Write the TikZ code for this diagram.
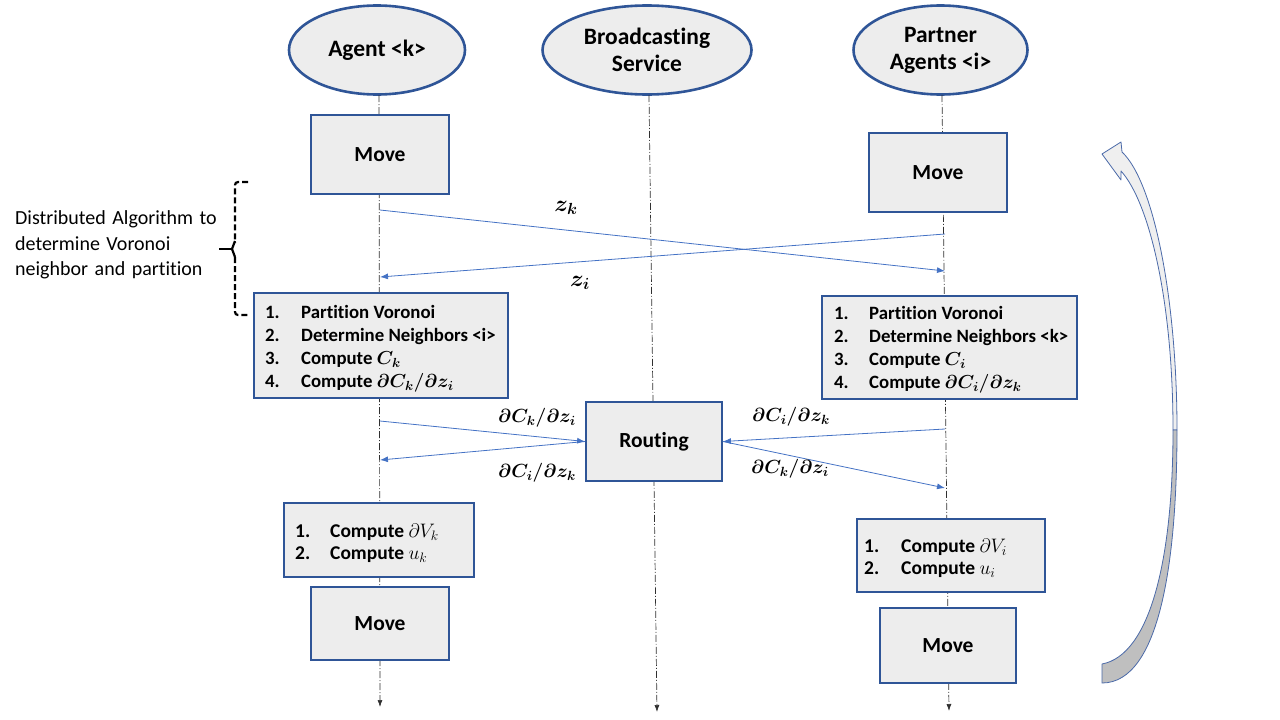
\RequirePackage{fix-cm}
\documentclass[tikz,border=0pt]{standalone}
\usepackage{fontspec}
\setmainfont{Carlito}[Ligatures=NoCommon]
\usetikzlibrary{shapes.geometric,arrows.meta}
\definecolor{boxfill}{HTML}{EDEDED}
\definecolor{boxline}{HTML}{2F5597}
\definecolor{msgblue}{HTML}{4472C4}
\definecolor{lifegray}{HTML}{303030}
\definecolor{arrowlight}{HTML}{EFEFEF}
\definecolor{arrowdark}{HTML}{BFBFBF}
\definecolor{arrowline}{HTML}{4A69A8}
\newcommand{\widespaces}{\spaceskip=6.5pt plus 1pt\relax}
\begin{document}
\begin{tikzpicture}[x=1pt,y=-1pt,
  actor/.style={ellipse, draw=boxline, line width=2.6pt, fill=boxfill, minimum height=89pt, inner sep=0pt, align=center, font=\fontsize{23.5}{27}\selectfont\bfseries},
  stepbox/.style={rectangle, draw=boxline, line width=1.8pt, fill=boxfill, inner sep=0pt, font=\fontsize{21.5}{24}\selectfont\bfseries},
  listtxt/.style={inner sep=0pt, align=left, anchor=west, font=\fontsize{18.8}{23}\selectfont\bfseries\boldmath},
  comptxt/.style={inner sep=0pt, align=left, anchor=west, font=\fontsize{19.5}{22}\selectfont\bfseries},
  life/.style={draw=lifegray, line width=0.7pt, dash pattern=on 7pt off 2pt on 1pt off 2pt, -{Latex[length=7pt,width=5pt]}},
  msg/.style={draw=msgblue, line width=0.8pt, -{Latex[length=8pt,width=6pt]}},
  lbl/.style={inner sep=0pt, font=\fontsize{19}{22}\selectfont\boldmath},
  curv/.style={draw=arrowline, line width=0.8pt, line join=round},
  brace/.style={draw=black, line width=2.2pt, dash pattern=on 6pt off 3pt, rounded corners=3pt},
  bracesolid/.style={draw=black, line width=2.2pt},
  anno/.style={inner sep=0pt, align=left, anchor=west, font=\fontsize{20}{25.5}\selectfont}
]
\useasboundingbox (0,0) rectangle (1280,720);

% actors
\node[actor, minimum width=176pt] (agent) at (377,50) {Agent <k>};
\node[actor, minimum width=209pt] (bcast) at (647,50) {Broadcasting\\Service};
\node[actor, minimum width=174pt] (partner) at (940.5,50) {Partner\\Agents <i>};

% lifelines
\coordinate (agTop) at (379,95);
\coordinate (agEnd) at (380,707);
\coordinate (bsTop) at (649,95);
\coordinate (bsEnd) at (657,712);
\coordinate (paTop) at (942,95);
\coordinate (paEnd) at (949,711);
\draw[life] (agTop) -- (agEnd);
\draw[life] (bsTop) -- (bsEnd);
\draw[life] (paTop) -- (paEnd);

% boxes
\node[stepbox, minimum width=138pt, minimum height=79pt] (moveK1) at (380,154.5) {Move};
\node[stepbox, minimum width=138pt, minimum height=79pt] (moveI1) at (938,172.5) {Move};
\node[stepbox, minimum width=254pt, minimum height=105pt] (listK) at (381,345.5) {};
\node[stepbox, minimum width=255pt, minimum height=103pt] (listI) at (949.5,347.5) {};
\node[stepbox, minimum width=136pt, minimum height=79pt] (route) at (654,441.5) {Routing};
\node[stepbox, minimum width=190pt, minimum height=74pt] (compK) at (379,540) {};
\node[stepbox, minimum width=188pt, minimum height=73pt] (compI) at (951,555.5) {};
\node[stepbox, minimum width=138pt, minimum height=73pt] (moveK2) at (380,623.5) {Move};
\node[stepbox, minimum width=136pt, minimum height=75pt] (moveI2) at (948,645.5) {Move};

% box texts
\node[listtxt] (listKt) at (265,349) {\makebox[36pt][l]{1.}Partition Voronoi\\
  \makebox[36pt][l]{2.}Determine Neighbors <i>\\
  \makebox[36pt][l]{3.}Compute $C_k$\\
  \makebox[36pt][l]{4.}Compute $\partial C_k/\partial z_i$};
\node[listtxt] (listIt) at (834,350) {\makebox[35pt][l]{1.}Partition Voronoi\\
  \makebox[35pt][l]{2.}Determine Neighbors <k>\\
  \makebox[35pt][l]{3.}Compute $C_i$\\
  \makebox[35pt][l]{4.}Compute $\partial C_i/\partial z_k$};
\node[comptxt] (compKt) at (295,543) {\makebox[35pt][l]{1.}Compute $\partial V_k$\\
  \makebox[35pt][l]{2.}Compute $u_k$};
\node[comptxt] (compIt) at (864,558) {\makebox[37pt][l]{1.}Compute $\partial V_i$\\
  \makebox[37pt][l]{2.}Compute $u_i$};

% z messages
\coordinate (zkS) at (380,210);
\coordinate (zkE) at (945,271);
\coordinate (ziS) at (945,234);
\coordinate (ziE) at (380,277);
\draw[msg] (zkS) -- (zkE);
\draw[msg] (ziS) -- (ziE);
\node[lbl, font=\fontsize{23}{26}\selectfont\boldmath] (lzk) at (566,208) {$z_k$};
\node[lbl, font=\fontsize{23}{26}\selectfont\boldmath] (lzi) at (580,283) {$z_i$};

% routing messages
\coordinate (dKs) at (380,421);
\coordinate (dKe) at (380,460);
\coordinate (dIs) at (945,429);
\coordinate (dIe) at (945,488);
\draw[msg] (dKs) -- (route.west);
\draw[msg] (route.west) -- (dKe);
\draw[msg] (dIs) -- (route.east);
\draw[msg] (route.east) -- (dIe);
\node[lbl] (l1) at (537,418) {$\partial C_k/\partial z_i$};
\node[lbl] (l2) at (537,473) {$\partial C_i/\partial z_k$};
\node[lbl] (l3) at (791,417) {$\partial C_i/\partial z_k$};
\node[lbl] (l4) at (790,469) {$\partial C_k/\partial z_i$};

% annotation with bracket
\node[anno] (note) at (15,245) {\widespaces Distributed Algorithm to\\\widespaces determine Voronoi\\\widespaces neighbor and partition};
\draw[brace] (248,182) -- (235,182) -- (235,243);
\draw[bracesolid, line join=round] (235,241) -- (232,249) -- (235,257);
\draw[brace] (235,257) -- (235,315) -- (250,315);
\draw[bracesolid] (219,249) -- (232,249);

% curved loop arrow
\draw[curv, fill=arrowlight] (1102,154) -- (1121,142) -- (1122,152)
  .. controls (1154,182) and (1177,300) .. (1177,430) -- (1173,430)
  .. controls (1173,300) and (1149,202) .. (1121,171) -- (1121,180) -- cycle;
\draw[curv, fill=arrowdark] (1173,430) .. controls (1173,560) and (1150,655) .. (1102,664)
  -- (1102,683) .. controls (1160,683) and (1177,560) .. (1177,430) -- cycle;
\end{tikzpicture}
\end{document}
